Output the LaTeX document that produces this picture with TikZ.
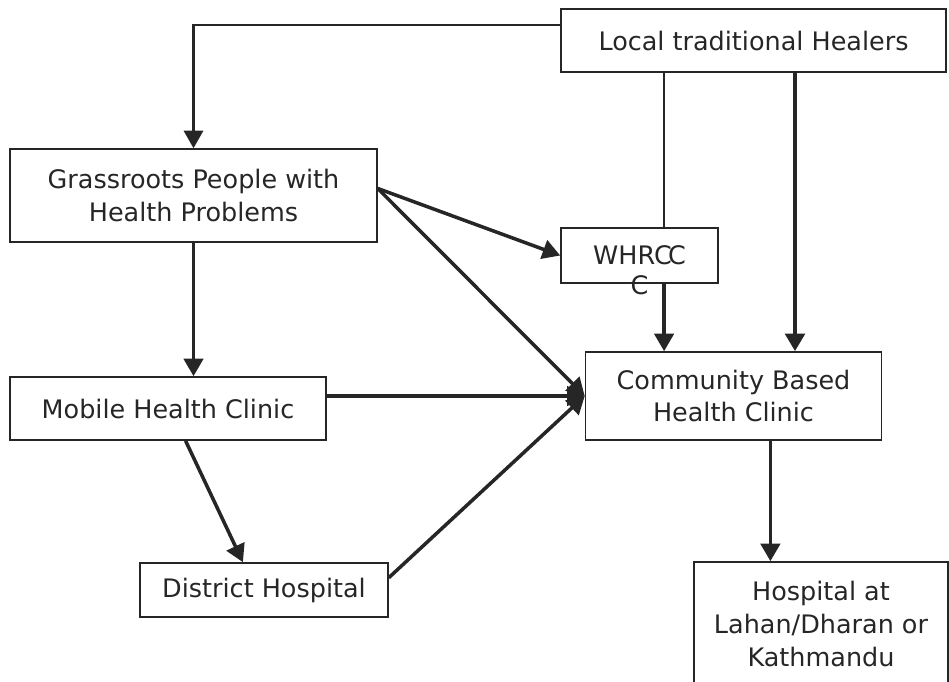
\documentclass[tikz,border=0pt]{standalone}
\usepackage{fontspec}
\setmainfont{DejaVu Sans}
\usepackage{tikz}
\usetikzlibrary{arrows.meta}
\definecolor{inkgray}{HTML}{262626}
\tikzset{
	blocknode/.style = {align=center, inner sep=0pt, text centered, draw=inkgray,
		line width=0.9pt, text=inkgray, font=\fontsize{14.5}{18.7}\selectfont},
	lnk_t/.style = {draw=inkgray, line width=2pt, -{Triangle[length=10pt,width=11pt]}},
	lnk_n/.style = {draw=inkgray, line width=0.9pt}
}

\begin{document}
\begin{tikzpicture}[x=0.02cm, y=-0.02cm]
\clip (0,0) rectangle (949,681);
\node [blocknode, minimum width=7.7cm, minimum height=1.26cm] (heal) at (753.5,40.5) {Local traditional Healers};
\node [blocknode, minimum width=7.34cm, minimum height=1.86cm] (grass) at (193.5,195.5) {Grassroots People with\\Health Problems};
\node [blocknode, minimum width=3.14cm, minimum height=1.1cm,
	label={[inner sep=0pt, label distance=-5pt, text=inkgray, font=\fontsize{14.5}{18.7}\selectfont]below:C}] (whrc) at (639.5,255.5) {WHRC\kern-0.15em C};
\node [blocknode, minimum width=5.92cm, minimum height=1.76cm] (cbhc) at (733.5,396) {Community Based\\Health Clinic};
\node [blocknode, minimum width=6.32cm, minimum height=1.26cm] (mobile) at (168,408.5) {Mobile Health Clinic};
\node [blocknode, minimum width=4.96cm, minimum height=1.08cm] (district) at (264,590) {District Hospital};
\node [blocknode, minimum width=5.08cm, minimum height=2.48cm] (hosp) at (821,624) {Hospital at\\Lahan/Dharan or\\Kathmandu};

\draw [lnk_n, line width=1.3pt, -{Triangle[length=10pt,width=11pt]}] ([yshift=9pt]heal.west) -| (grass.north);
\draw [lnk_n] ([xshift=14pt]whrc.north |- heal.south) -- ([xshift=14pt]whrc.north);
\draw [lnk_t, line width=2.5pt] ([xshift=35pt]cbhc.north |- heal.south) -- ([xshift=35pt]cbhc.north);
\draw [lnk_t] ([xshift=14pt]whrc.south) -- ([xshift=14pt]whrc.south |- cbhc.north);
\draw [lnk_t] ([yshift=4pt]grass.east) -- (whrc.west);
\draw [lnk_t] ([yshift=4pt]grass.east) -- (cbhc.west);
\draw [lnk_t] (grass.south) -- (grass.south |- mobile.north);
\draw [lnk_t] (mobile.east |- cbhc.west) -- (cbhc.west);
\draw [lnk_t] ([xshift=10pt]mobile.south) -- ([xshift=-12pt]district.north);
\draw [lnk_t] ([yshift=7pt]district.east) -- (cbhc.west);
\draw [lnk_t] ([xshift=21pt]cbhc.south) -- ([xshift=21pt]cbhc.south |- hosp.north);
\end{tikzpicture}
\end{document}
